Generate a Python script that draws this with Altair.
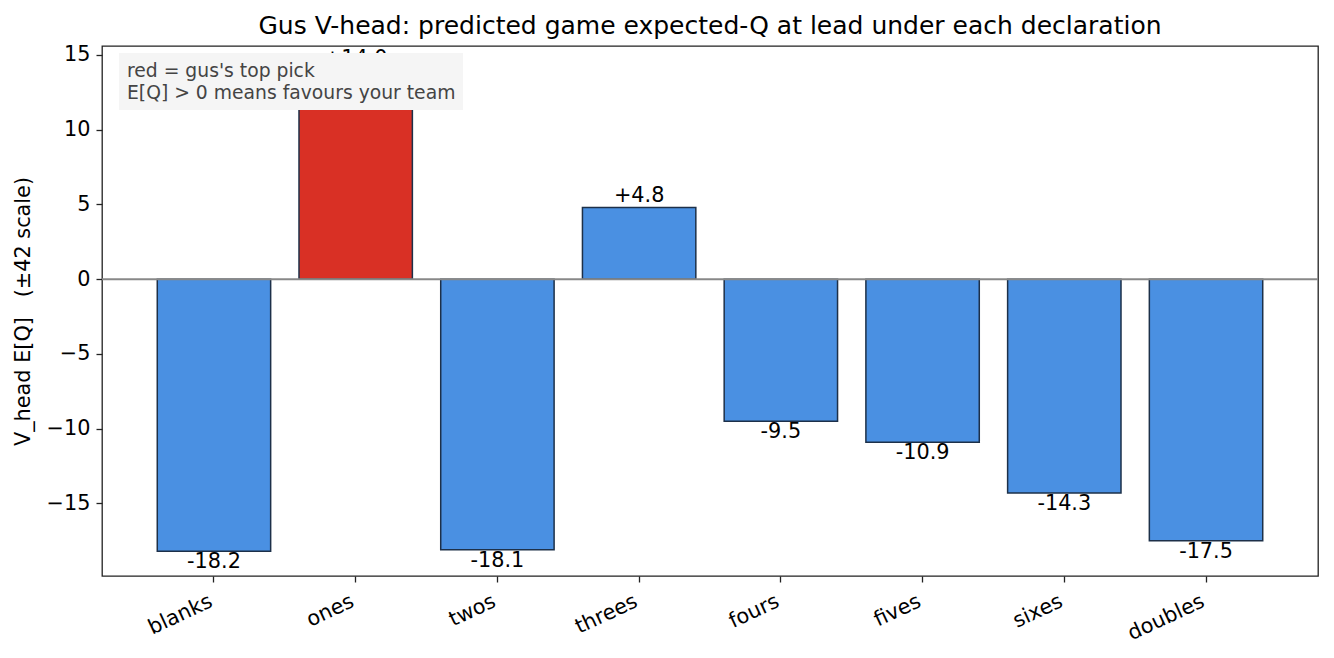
import altair as alt
import pandas as pd

categories = ["blanks", "ones", "twos", "threes", "fours", "fives", "sixes", "doubles"]
values = [-18.2, 14.0, -18.1, 4.8, -9.5, -10.9, -14.3, -17.5]
top_pick = "ones"

df = pd.DataFrame({
    "cat": categories,
    "v": values,
    "label": [f"{v:+.1f}" for v in values],
    "pick": [c == top_pick for c in categories],
})

FONT = "DejaVu Sans"
FS = 20.8
NB = "\u00a0"
x = alt.X("cat:N", sort=categories, title=None,
          scale=alt.Scale(paddingInner=0.2, paddingOuter=0.39),
          axis=alt.Axis(labelAngle=-25, labelAlign="right", labelBaseline="top",
                        labelFontSize=FS, labelColor="black", tickSize=6,
                        tickColor="#222", tickWidth=1.3, domain=False,
                        labelPadding=9, labelOffset=-7))
y = alt.Y("v:Q", title=f"V_head E[Q]{NB}{NB}{NB}(±42 scale)",
          scale=alt.Scale(domain=[-19.85, 15.6], nice=False, zero=False),
          axis=alt.Axis(values=[-15, -10, -5, 0, 5, 10, 15], grid=False,
                        labelFontSize=FS, labelColor="black", tickSize=6, labelPadding=6,
                        tickColor="#222", tickWidth=1.3, domain=False, titleFontSize=FS,
                        titleFontWeight="normal", titleColor="black", titlePadding=13))

base = alt.Chart(df)
bars = base.mark_bar(stroke="#1d3049", strokeWidth=1.5).encode(
    x=x, y=y, y2=alt.datum(0),
    color=alt.Color("pick:N", scale=alt.Scale(domain=[False, True], range=["#4a90e2", "#d93025"]), legend=None),
)
zero = alt.Chart(pd.DataFrame({"z": [0]})).mark_rule(color="#888", strokeWidth=1.8).encode(y=alt.Y("z:Q"))
pos = base.transform_filter("datum.v >= 0").mark_text(baseline="bottom", dy=-1, fontSize=FS, font=FONT, color="black").encode(
    x=alt.X("cat:N", sort=categories), y=alt.Y("v:Q"), text="label:N")
neg = base.transform_filter("datum.v < 0").mark_text(baseline="top", dy=1, fontSize=FS, font=FONT, color="black").encode(
    x=alt.X("cat:N", sort=categories), y=alt.Y("v:Q"), text="label:N")

note_lines = ["red = gus's top pick", "E[Q] > 0 means favours your team"]
box = alt.Chart(pd.DataFrame({"a": [0]})).mark_rect(color="#f5f5f5", opacity=1).encode(
    x=alt.value(17), x2=alt.value(361), y=alt.value(7), y2=alt.value(64))
note = alt.Chart(pd.DataFrame({"t": [note_lines]})).mark_text(
    align="left", baseline="top", fontSize=18.75, font=FONT, color="#444", lineHeight=22).encode(
    x=alt.value(25), y=alt.value(16), text="t")

chart = alt.layer(bars, zero, pos, neg, box, note).properties(
    width=1216, height=530,
    title=alt.TitleParams("Gus V-head: predicted game expected-Q at lead under each declaration",
                          fontSize=25, fontWeight="normal", font=FONT, color="black", offset=5),
    padding={"left": 94, "top": 38, "right": 8, "bottom": 70},
    autosize=alt.AutoSizeParams(type="none"),
).configure(font=FONT).configure_view(stroke="#222", strokeWidth=1.3).configure_axis(labelFont=FONT, titleFont=FONT)

chart.save("out.html", embed_options={"renderer": "svg", "actions": False})
